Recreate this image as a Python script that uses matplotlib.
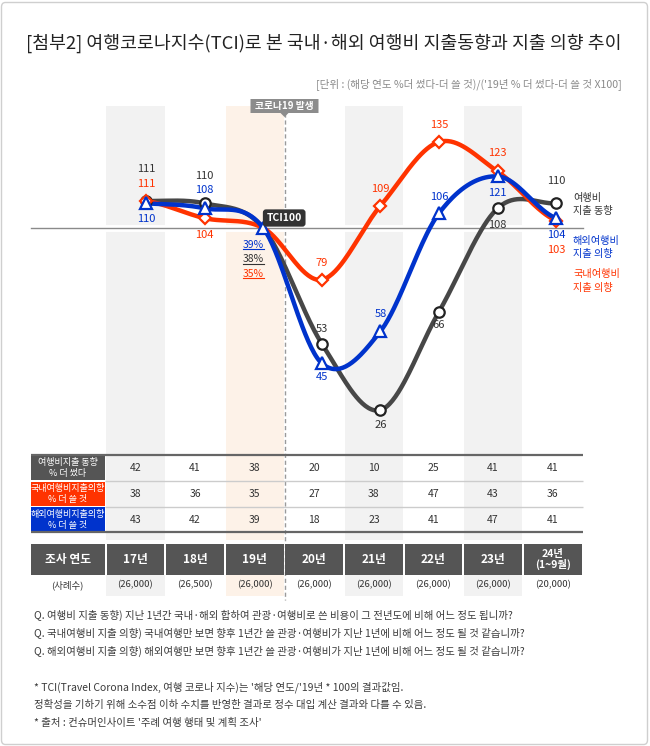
import numpy as np
import matplotlib.pyplot as plt
from matplotlib.patches import FancyBboxPatch, Rectangle, Polygon
from matplotlib.lines import Line2D
from matplotlib.transforms import IdentityTransform

plt.rcParams['font.family'] = ['Noto Sans CJK KR', 'DejaVu Sans']

# ---- data ----
years = ['17년', '18년', '19년', '20년', '21년', '22년', '23년', '24년\n(1~9월)']
samples = ['(26,000)', '(26,500)', '(26,000)', '(26,000)', '(26,000)', '(26,000)', '(26,000)', '(20,000)']

tci_spend = [111, 110, 100, 53, 26, 66, 108, 110]       # 여행비 지출 동향
tci_domestic = [111, 104, 100, 79, 109, 135, 123, 103]  # 국내여행비 지출 의향
tci_overseas = [110, 108, 100, 45, 58, 106, 121, 104]   # 해외여행비 지출 의향

pct_spend = [42, 41, 38, 20, 10, 25, 41, 41]
pct_domestic = [38, 36, 35, 27, 38, 47, 43, 36]
pct_overseas = [43, 42, 39, 18, 23, 41, 47, 41]

row_labels = ['여행비지출 동향\n% 더 썼다', '국내여행비지출의향\n% 더 쓸 것', '해외여행비지출의향\n% 더 쓸 것']
notes = [
    'Q. 여행비 지출 동향) 지난 1년간 국내·해외 합하여 관광·여행비로 쓴 비용이 그 전년도에 비해 어느 정도 됩니까?',
    'Q. 국내여행비 지출 의향) 국내여행만 보면 향후 1년간 쓸 관광·여행비가 지난 1년에 비해 어느 정도 될 것 같습니까?',
    'Q. 해외여행비 지출 의향) 해외여행만 보면 향후 1년간 쓸 관광·여행비가 지난 1년에 비해 어느 정도 될 것 같습니까?',
    '',
    "* TCI(Travel Corona Index, 여행 코로나 지수)는 '해당 연도/'19년 * 100의 결과값임.",
    '정확성을 기하기 위해 소수점 이하 수치를 반영한 결과로 정수 대입 계산 결과와 다를 수 있음.',
    "* 출처 : 컨슈머인사이트 '주례 여행 행태 및 계획 조사'",
]

GRAY = '#474747'
RED = '#ff3300'
BLUE = '#0033cc'
DARK = '#555555'
TXT = '#333333'

W, H = 650, 746
fig = plt.figure(figsize=(6.5, 7.46), dpi=100)

# ---- background / table axes: x = table column, y = pixels from top ----
bg = fig.add_axes([0, 0, 1, 1])
bg.patch.set_alpha(0)
col0, colw = 135.5, 59.6
bg.set_xlim(-col0 / colw, (W - col0) / colw)
bg.set_ylim(H, 0)
bg.axis('off')


def cx(px):
    return (px - col0) / colw


idx = np.arange(len(years))
band_colors = ['#f2f2f2', None, '#fdf2e8', None, '#f2f2f2', None, '#f2f2f2', None]
for i, c in enumerate(band_colors):
    if c:
        bg.bar(i, 434, bottom=106, width=0.975, color=c, zorder=0)
        bg.bar(i, 21, bottom=575, width=0.975, color=c, zorder=0)

# covid marker: dashed line + banner
bg.vlines(2.5, 113, 600, colors='#9a9a9a', linestyles=(0, (3, 2)), lw=1, zorder=1)
bx0, bx1 = 2.5 - 34 / colw, 2.5 + 34 / colw
bg.add_patch(Polygon([(bx0, 99), (bx1, 99), (bx1, 113), (2.5 + 4 / colw, 113),
                      (2.5, 117), (2.5 - 4 / colw, 113), (bx0, 113)],
                     closed=True, fc='#8c8c8c', ec='none', zorder=2))
bg.text(2.5, 105.5, '코로나19 발생', color='white', fontsize=7, fontweight='bold',
        ha='center', va='center', zorder=3)

# table of percentages
lx0, lx1 = cx(31), cx(104.5)
right = cx(583)
row_y = [468, 494, 520]
row_colors = [DARK, RED, BLUE]
for r, (lab, col, vals) in enumerate(zip(row_labels, row_colors,
                                         [pct_spend, pct_domestic, pct_overseas])):
    y0 = 455 + 25.7 * r
    bg.add_patch(Rectangle((lx0, y0 + 0.8), lx1 - lx0, 24.2, fc=col, ec='none', zorder=2))
    bg.text((lx0 + lx1) / 2, row_y[r], lab, color='white', fontsize=6.5, ha='center',
            va='center', linespacing=1.2, zorder=3)
    for i, v in enumerate(vals):
        bg.text(i, row_y[r], str(v), color=TXT, fontsize=7.5, ha='center', va='center', zorder=3)
for y in (481, 507):
    bg.hlines(y, lx1, right, colors='#cccccc', lw=1, zorder=2)
for y in (455, 532):
    bg.hlines(y, lx0, right, colors='#666666', lw=1.6, zorder=3)

# year header row
bg.add_patch(Rectangle((lx0, 544), lx1 - lx0, 31, fc=DARK, ec='none', zorder=2))
bg.text((lx0 + lx1) / 2, 559.5, '조사 연도', color='white', fontsize=8.5, fontweight='bold',
        ha='center', va='center', zorder=3)
bg.bar(idx, 31, bottom=544, width=0.97, color=DARK, zorder=2)
for i, (yl, s) in enumerate(zip(years, samples)):
    bg.text(i, 559.5, yl, color='white', fontsize=8.5 if i < 7 else 7.5, fontweight='bold',
            ha='center', va='center', linespacing=1.0, zorder=3)
    bg.text(i, 585, s, color=TXT, fontsize=6.8, ha='center', va='center', zorder=3)
bg.text((lx0 + lx1) / 2, 585, '(사례수)', color=TXT, fontsize=6.8, ha='center', va='center')

# ---- chart axes: x = survey year index, y = TCI value ----
ax = fig.add_axes([0, 0, 1, 1])
ax.patch.set_alpha(0)
x0, dx = 146, 58.6
base, scale = 228, 2.46
ax.set_xlim(-x0 / dx, (W - x0) / dx)
ax.set_ylim(100 - (H - base) / scale, 100 + base / scale)
ax.axis('off')

ax.axhline(100, xmin=31 / W, xmax=583 / W, color='white', lw=5, zorder=1)
ax.axhline(100, xmin=31 / W, xmax=583 / W, color='#8a8a8a', lw=1, zorder=2)


def spline(ys, steps=40):
    y = np.asarray(ys, float)
    m = np.empty_like(y)
    m[1:-1] = (y[2:] - y[:-2]) / 2
    m[0] = (y[1] - y[0]) / 2
    m[-1] = (y[-1] - y[-2]) / 2
    t = np.linspace(0, 1, steps)
    h00 = 2 * t ** 3 - 3 * t ** 2 + 1
    h10 = t ** 3 - 2 * t ** 2 + t
    h01 = -2 * t ** 3 + 3 * t ** 2
    h11 = t ** 3 - t ** 2
    xs, out = [], []
    for i in range(len(y) - 1):
        xs.append(i + t)
        out.append(h00 * y[i] + h10 * m[i] + h01 * y[i + 1] + h11 * m[i + 1])
    return np.concatenate(xs), np.concatenate(out)


series = [
    (tci_spend, GRAY, 'o', 7.5, [-32, -27, None, -15, 15, 13, 17, -22], '#333333'),
    (tci_domestic, RED, 'D', 6, [-17, 17, None, -17, -17, -17, -18, 29], RED),
    (tci_overseas, BLUE, '^', 8, [16, -18, None, 14, -17, -16, 17, 17], BLUE),
]
for k, (vals, col, mk, ms, offs, tcol) in enumerate(series):
    sx, sy = spline(vals)
    ax.plot(sx, sy, color=col, lw=3.2, solid_capstyle='round', zorder=3 + k)
for k, (vals, col, mk, ms, offs, tcol) in enumerate(series):
    every = list(range(len(vals))) if mk == '^' else [0, 1, 3, 4, 5, 6, 7]
    ax.plot(idx, vals, ls='none', marker=mk, ms=ms, mfc='white', mec=col if mk != 'o' else '#222222',
            mew=1.6, markevery=every, zorder=7 + k)
    for i, (v, o) in enumerate(zip(vals, offs)):
        if o is None:
            continue
        ax.annotate(str(v), (i, v), xytext=(0, -o * 0.72), textcoords='offset points',
                    ha='center', va='center', color=tcol, fontsize=8, zorder=10)

# TCI100 tag at 2019
ax.annotate('TCI100', (2, 100), xytext=(21 * 0.72, 10 * 0.72), textcoords='offset points',
            ha='center', va='center', color='white', fontsize=7.5, fontweight='bold', zorder=12,
            bbox=dict(boxstyle='round,pad=0.35,rounding_size=0.3', fc='#333333', ec='none'))

pct_labels = []
for j, (vals, col) in enumerate([(pct_overseas, BLUE), (pct_spend, '#333333'), (pct_domestic, RED)]):
    t = ax.annotate(f'{vals[2]}%', (2, 100), xytext=(-10 * 0.72, -(17 + 14.5 * j) * 0.72),
                    textcoords='offset points', ha='center', va='center', color=col,
                    fontsize=7.5, zorder=12)
    pct_labels.append((t, col))

# right-side series names
fig.text(573 / W, 1 - 204.5 / H, '여행비\n지출 동향', color='#333333', fontsize=7.3,
         va='center', ha='left', linespacing=1.45)
fig.text(573 / W, 1 - 247.5 / H, '해외여행비\n지출 의향', color=BLUE, fontsize=7.3,
         va='center', ha='left', linespacing=1.45)
fig.text(573 / W, 1 - 281 / H, '국내여행비\n지출 의향', color=RED, fontsize=7.3,
         va='center', ha='left', linespacing=1.45)

# title and unit
fig.text(26 / W, 1 - 43 / H, '[첨부2] 여행코로나지수(TCI)로 본 국내·해외 여행비 지출동향과 지출 의향 추이',
         fontsize=13.2, color='#222222', va='center', ha='left')
fig.text(622 / W, 1 - 84 / H, "[단위 : (해당 연도 %더 썼다-더 쓸 것)/('19년 % 더 썼다-더 쓸 것 X100]",
         fontsize=7.6, color='#8a8a8a', va='center', ha='right')

for k, line in enumerate(notes):
    if line:
        fig.text(34 / W, 1 - (615 + 18 * k) / H, line, fontsize=7.5, color='#3a3a3a',
                 va='center', ha='left')

# frame
fig.add_artist(FancyBboxPatch((1.5 / W, 1.5 / H), (W - 4) / W, (H - 4) / H,
                              boxstyle='round,pad=0,rounding_size=0.006',
                              transform=fig.transFigure, fc='none', ec='#cfcfcf', lw=1))

# underline the 2019 percentages
fig.canvas.draw()
rend = fig.canvas.get_renderer()
for t, col in pct_labels:
    bb = t.get_window_extent(rend)
    fig.add_artist(Line2D([bb.x0, bb.x1], [bb.y0 + 1, bb.y0 + 1], color=col, lw=0.8,
                          transform=IdentityTransform(), zorder=12))

fig.savefig('out.png', dpi=100)
